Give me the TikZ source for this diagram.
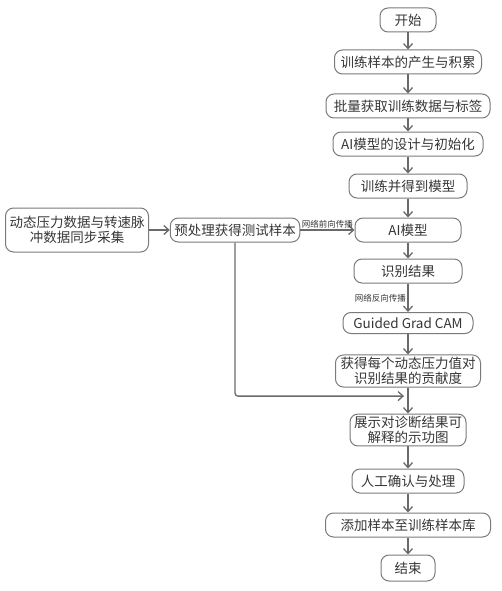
\documentclass[tikz,border=0pt]{standalone}
\usepackage{fontspec}
\setmainfont{Noto Sans CJK SC}
\usetikzlibrary{arrows.meta,positioning,calc}
\definecolor{boxgray}{HTML}{7A7A7A}
\definecolor{arrgray}{HTML}{6A6A6A}
\definecolor{txtgray}{HTML}{363636}

\begin{document}
\begin{tikzpicture}[x=1pt,y=1pt,on grid,node distance=44pt,
    box/.style={draw=boxgray, rounded corners=8pt, minimum height=24pt,
      inner xsep=4pt, inner ysep=2pt, text=txtgray, align=center,
      font=\fontsize{13.5}{15.5}\selectfont, line width=1pt},
    arr/.style={-{Straight Barb[length=5pt,width=9pt]}, draw=arrgray, line width=1.3pt},
    tag/.style={text=txtgray, font=\fontsize{8.5}{10}\selectfont, inner sep=1.5pt}]
    \useasboundingbox (0,0) rectangle (502,-591);
    % main column
    \node[box, minimum width=56pt] (start) at (408,-20) {开始};
    \node[box, minimum width=147pt, below=42pt of start] (accum) {训练样本的产生与积累};
    \node[box, minimum width=164pt, below=44pt of accum] (batch) {批量获取训练数据与标签};
    \node[box, minimum width=150pt, below=38pt of batch] (design) {AI模型的设计与初始化};
    \node[box, minimum width=118pt, below=42pt of design] (train) {训练并得到模型};
    \node[box, minimum width=106pt, below=44pt of train] (ai) {AI模型};
    \node[box, minimum width=108pt, below=41pt of ai] (result) {识别结果};
    \node[box, minimum width=130pt, minimum height=21pt, below=52pt of result] (guided) {Guided Grad CAM};
    \node[box, minimum width=145pt, below=48pt of guided] (contrib) {获得每个动态压力值对\\识别结果的贡献度};
    \node[box, minimum width=109pt, below=59pt of contrib] (show) {展示对诊断结果可\\解释的示功图};
    \node[box, minimum width=112pt, below=51pt of show] (manual) {人工确认与处理};
    \node[box, minimum width=165pt, below=44pt of manual] (addlib) {添加样本至训练样本库};
    \node[box, minimum width=54pt, minimum height=26pt, below=43pt of addlib] (finish) {结束};
    % test branch
    \node[box, minimum width=127pt, left=173pt of ai] (pre) {预处理获得测试样本};
    \node[box, minimum width=138pt, minimum height=44pt, left=158pt of pre] (collect) {动态压力数据与转速脉\\冲数据同步采集};
    \coordinate (join) at ($(contrib.south)!0.33!(show.north)$);

    \draw[arr] (start) -- (accum);
    \draw[arr] (accum) -- (batch);
    \draw[arr] (batch) -- (design);
    \draw[arr] (design) -- (train);
    \draw[arr] (train) -- (ai);
    \draw[arr] (ai) -- (result);
    \draw[arr] (result) -- node[tag, left] {网络反向传播} (guided);
    \draw[arr] (guided) -- (contrib);
    \draw[arr] (contrib) -- (show);
    \draw[arr] (show) -- (manual);
    \draw[arr] (manual) -- (addlib);
    \draw[arr] (addlib) -- (finish);
    \draw[arr] (collect) -- (pre);
    \draw[arr] (pre) -- node[tag, above] {网络前向传播} (ai);
    \draw[arr, rounded corners=3pt] (pre.south) |- ([xshift=-4pt]join);
\end{tikzpicture}
\end{document}
